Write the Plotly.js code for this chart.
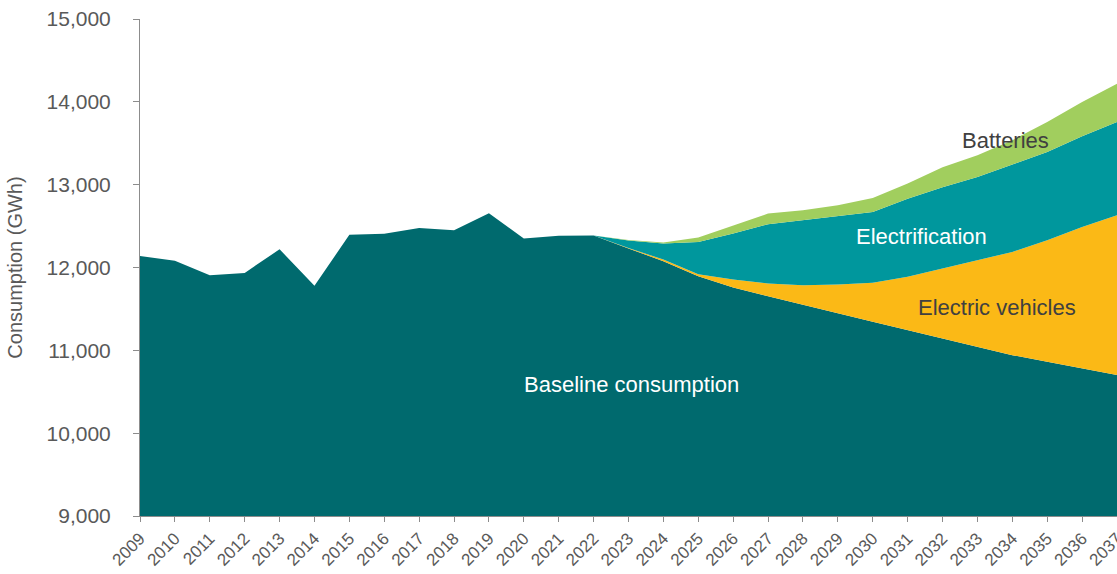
<!DOCTYPE html>
<html>
<head>
<meta charset="utf-8">
<script src="https://cdn.plot.ly/plotly-3.0.1.min.js"></script>
<style>
html,body{margin:0;padding:0;background:#fff;}
#chart{width:1117px;height:574px;}
</style>
</head>
<body>
<div id="chart"></div>
<script>
const years = [2009,2010,2011,2012,2013,2014,2015,2016,2017,2018,2019,2020,2021,2022,2023,2024,2025,2026,2027,2028,2029,2030,2031,2032,2033,2034,2035,2036,2037];
const baseline = [12140,12080,11905,11935,12220,11780,12394,12406,12478,12450,12655,12350,12383,12385,12230,12076,11895,11759,11654,11554,11449,11344,11244,11143,11042,10942,10861,10781,10701];
const electricVehicles = [0,0,0,0,0,0,0,0,0,0,0,0,0,0,5,20,24,96,153,233,346,471,643,842,1046,1246,1468,1709,1930];
const electrification = [0,0,0,0,0,0,0,0,0,0,0,0,0,0,90,195,390,555,715,784,824,856,943,985,1005,1058,1065,1094,1126];
const batteries = [0,0,0,0,0,0,0,0,0,0,0,0,0,0,8,12,53,100,129,120,133,169,183,240,262,290,363,414,462];
const seriesNames = ["Baseline consumption","Electric vehicles","Electrification","Batteries"];
const tickLabels = years.map(String);

const colors = ["rgb(0,106,110)","rgb(251,185,22)","rgb(0,151,157)","rgb(161,206,94)"];
const seriesData = [baseline, electricVehicles, electrification, batteries];

const traces = seriesData.map((vals, i) => ({
  type: "scatter",
  mode: "lines",
  x: years,
  y: vals,
  name: seriesNames[i],
  stackgroup: "one",
  line: {width: 0, color: colors[i]},
  fillcolor: colors[i],
  hoverinfo: "x+y+name"
}));

const gray = "#595959";
const layout = {
  width: 1117,
  height: 574,
  margin: {l: 140, r: 0, t: 19, b: 58},
  paper_bgcolor: "#fff",
  plot_bgcolor: "#fff",
  showlegend: false,
  font: {family: "Liberation Sans, Arial, sans-serif", color: gray},
  xaxis: {
    range: [2009, 2037],
    tickmode: "array",
    tickvals: years,
    ticktext: tickLabels,
    tickangle: -45,
    ticklabeloverflow: "allow",
    tickfont: {size: 17, color: gray},
    showgrid: false,
    zeroline: false,
    showline: true,
    linecolor: "#8c8c8c",
    linewidth: 1,
    ticks: "outside",
    ticklen: 5,
    tickcolor: "#8c8c8c"
  },
  yaxis: {
    range: [9000, 15000],
    tickvals: [9000,10000,11000,12000,13000,14000,15000],
    tickformat: ",d",
    tickfont: {size: 21, color: gray},
    showgrid: false,
    zeroline: false,
    showline: true,
    linecolor: "#8c8c8c",
    linewidth: 1,
    ticks: "outside",
    ticklen: 6,
    tickcolor: "#8c8c8c",
    ticklabelstandoff: 18,
    title: {text: "Consumption (GWh)", font: {size: 20, color: gray}, standoff: 18}
  },
  annotations: [
    {x: 2023.1, y: 10590, xref: "x", yref: "y", text: "Baseline consumption", showarrow: false, font: {size: 22, color: "#ffffff"}},
    {x: 2031.4, y: 12380, xref: "x", yref: "y", text: "Electrification", showarrow: false, font: {size: 22, color: "#ffffff"}},
    {x: 2033.55, y: 11520, xref: "x", yref: "y", text: "Electric vehicles", showarrow: false, font: {size: 22, color: "#404040"}},
    {x: 2033.8, y: 13530, xref: "x", yref: "y", text: "Batteries", showarrow: false, font: {size: 22, color: "#404040"}}
  ]
};

Plotly.newPlot("chart", traces, layout, {displayModeBar: false, staticPlot: true});
</script>
</body>
</html>
